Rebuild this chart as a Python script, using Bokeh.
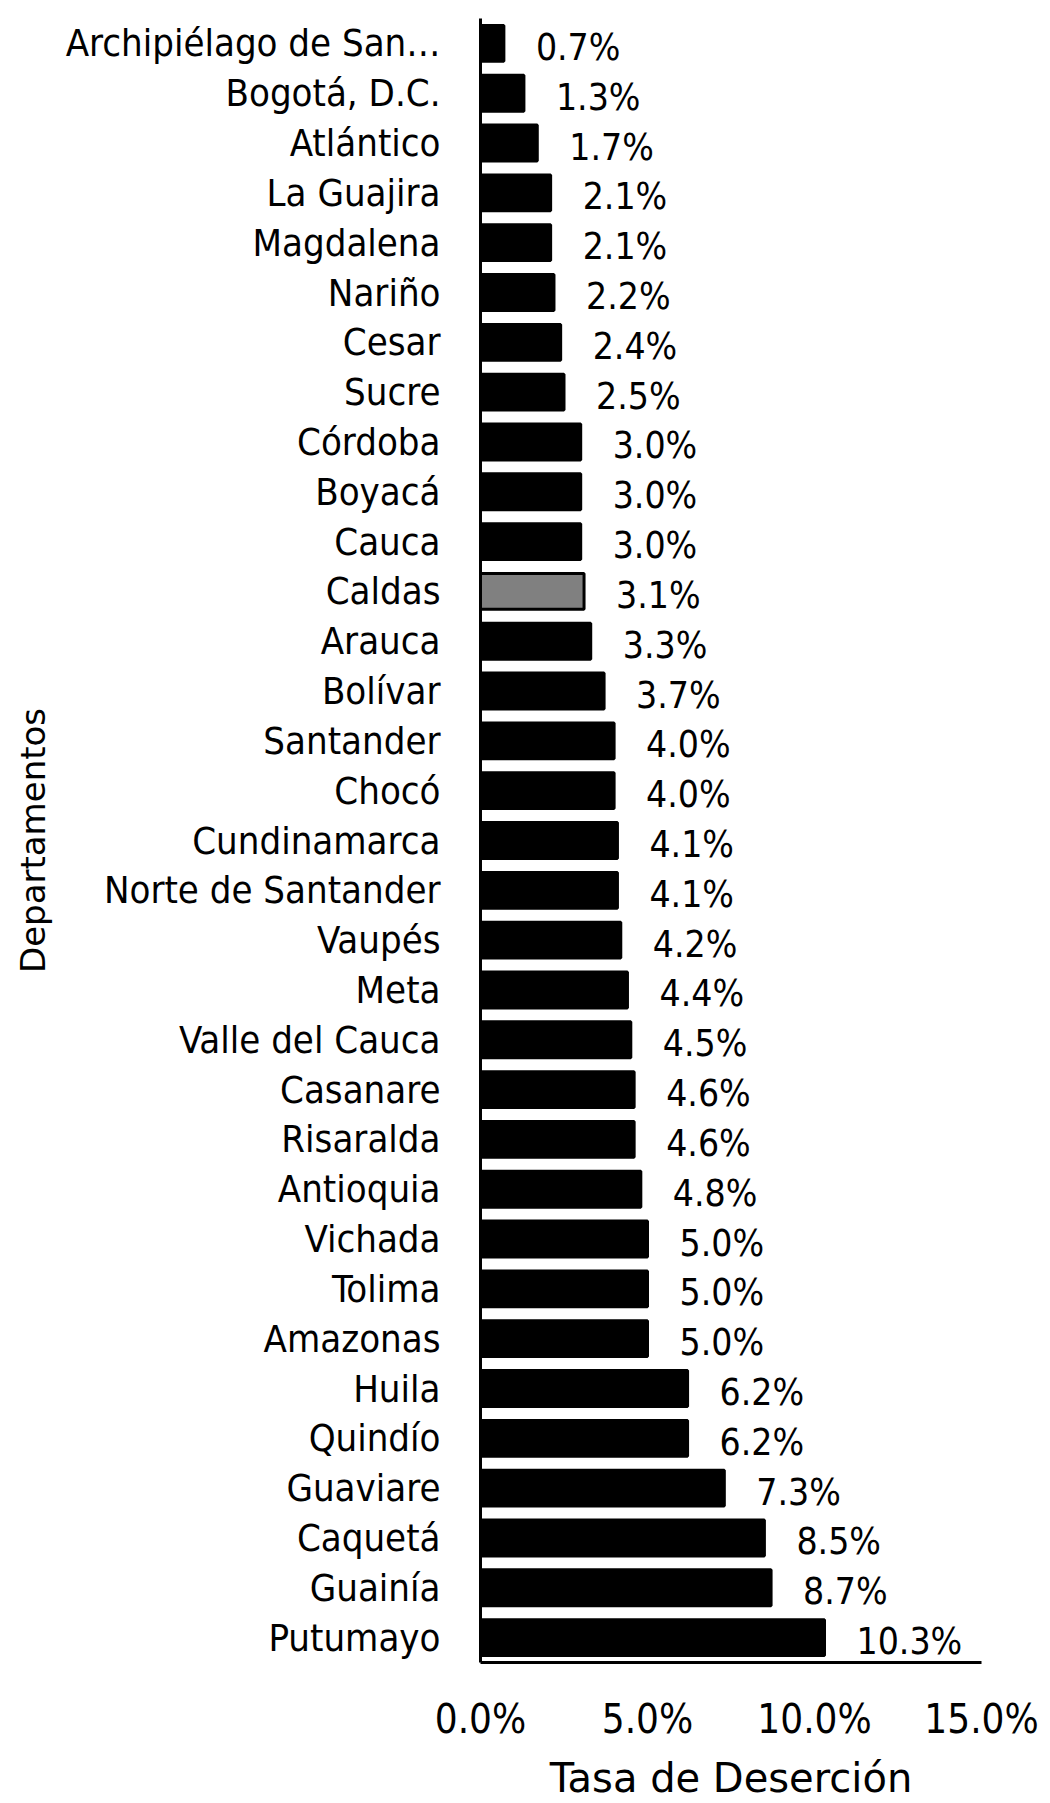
from bokeh.plotting import figure
from bokeh.models import ColumnDataSource, FactorRange, FixedTicker, PrintfTickFormatter, Range1d
from bokeh.core.properties import value
from bokeh.embed import file_html
from bokeh.resources import INLINE

departamentos = ["Archipiélago de San…", "Bogotá, D.C.", "Atlántico", "La Guajira", "Magdalena",
                 "Nariño", "Cesar", "Sucre", "Córdoba", "Boyacá", "Cauca", "Caldas", "Arauca",
                 "Bolívar", "Santander", "Chocó", "Cundinamarca", "Norte de Santander", "Vaupés",
                 "Meta", "Valle del Cauca", "Casanare", "Risaralda", "Antioquia", "Vichada",
                 "Tolima", "Amazonas", "Huila", "Quindío", "Guaviare", "Caquetá", "Guainía", "Putumayo"]
tasa = [0.7, 1.3, 1.7, 2.1, 2.1, 2.2, 2.4, 2.5, 3.0, 3.0, 3.0, 3.1, 3.3, 3.7, 4.0, 4.0, 4.1,
        4.1, 4.2, 4.4, 4.5, 4.6, 4.6, 4.8, 5.0, 5.0, 5.0, 6.2, 6.2, 7.3, 8.5, 8.7, 10.3]
destacado = "Caldas"
x_ticks = [0, 5, 10, 15]

FONT = "DejaVu Sans Condensed"
FONT_T = "DejaVu Sans"

colores = ["#808080" if d == destacado else "#000000" for d in departamentos]
etiquetas = [f"{v:.1f}%" for v in tasa]
src = ColumnDataSource(dict(dep=departamentos, val=tasa, col=colores, lab=etiquetas))

p = figure(width=1050, height=1803, output_backend="svg", toolbar_location=None,
           y_range=FactorRange(factors=list(reversed(departamentos))),
           x_range=Range1d(0, 15),
           min_border_left=480, min_border_right=69, min_border_top=18, min_border_bottom=141)

p.hbar(y="dep", right="val", left=0, height=0.72, source=src,
       fill_color="col", line_color="#000000", line_width=3)

p.text(x="val", y="dep", text="lab", source=src, x_offset=32, y_offset=4,
       text_baseline="middle", text_align="left",
       text_font=value(FONT), text_font_size="37px", text_color="#000000")

p.xgrid.grid_line_color = None
p.ygrid.grid_line_color = None
p.outline_line_color = None
p.background_fill_color = "white"
p.border_fill_color = "white"

xa = p.xaxis[0]
xa.ticker = FixedTicker(ticks=x_ticks)
xa.formatter = PrintfTickFormatter(format="%.1f%%")
xa.axis_line_width = 3
xa.axis_line_color = "#000000"
xa.major_tick_line_color = None
xa.minor_tick_line_color = None
xa.major_tick_out = 0
xa.major_label_standoff = 33
xa.major_label_text_font = FONT
xa.major_label_text_font_size = "40px"
xa.major_label_text_color = "#000000"
xa.axis_label = "Tasa de Deserción"
xa.axis_label_text_font = FONT_T
xa.axis_label_text_font_size = "40px"
xa.axis_label_text_font_style = "normal"
xa.axis_label_text_color = "#000000"
xa.axis_label_standoff = 10

ya = p.yaxis[0]
ya.axis_line_width = 3
ya.axis_line_color = "#000000"
ya.major_tick_line_color = None
ya.major_tick_out = 0
ya.major_label_standoff = 40
ya.major_label_text_font = FONT
ya.major_label_text_font_size = "38px"
ya.major_label_text_color = "#000000"
ya.axis_label = "Departamentos"
ya.axis_label_text_font = FONT_T
ya.axis_label_text_font_size = "34px"
ya.axis_label_text_font_style = "normal"
ya.axis_label_text_color = "#000000"
ya.axis_label_standoff = 10

open("out.html", "w").write(file_html(p, INLINE))
